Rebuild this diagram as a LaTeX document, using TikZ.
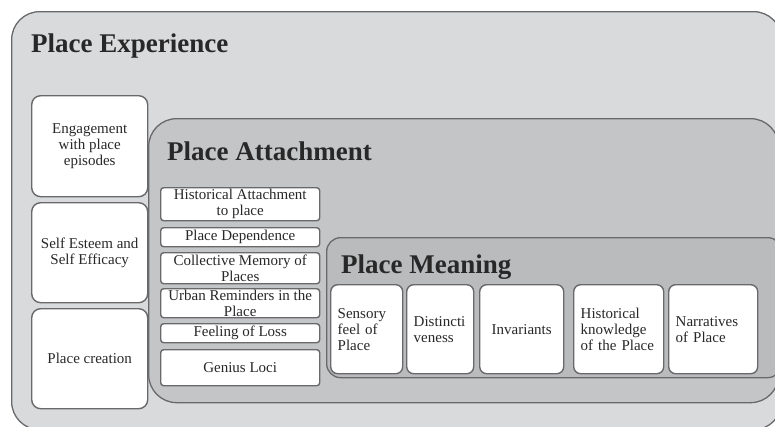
\documentclass[tikz,border=0pt]{standalone}
\usepackage{fontspec}
\setmainfont{Liberation Serif}
\definecolor{expfill}{RGB}{217,218,220}
\definecolor{attfill}{RGB}{196,197,199}
\definecolor{meafill}{RGB}{186,187,189}
\definecolor{edge}{RGB}{105,105,108}
\definecolor{ink}{RGB}{40,40,40}
\tikzset{
  panel/.style={draw=edge, line width=1.3pt, inner sep=0pt, anchor=north west},
  wbox/.style={draw=edge, fill=white, line width=1.4pt, inner sep=0pt, anchor=north west,
     font=\fontsize{15}{16}\selectfont, text=ink, align=center},
  leftbox/.style={wbox, align=left, inner xsep=7pt},
  title/.style={font=\fontsize{27}{30}\selectfont\bfseries, text=ink, anchor=base west, inner sep=0pt}
}
\begin{document}
\begin{tikzpicture}[x=1pt,y=-1pt]
\useasboundingbox (0,0) rectangle (775,426);
% containers
\node[panel, fill=expfill, rounded corners=28pt, minimum width=770pt, minimum height=418pt] (exp) at (11,11) {};
\node[title] (expt) at (31,52) {Place Experience};
\node[panel, fill=attfill, rounded corners=28pt, minimum width=630pt, minimum height=284pt] (att) at (148,118) {};
\node[title] (attt) at (167,160) {Place Attachment};
\node[panel, fill=meafill, rounded corners=14pt, minimum width=455pt, minimum height=140pt] (mea) at (326,237) {};
\node[title] (meat) at (341,273) {Place Meaning};
% left column
\node[wbox, rounded corners=9pt, minimum width=116pt, minimum height=101pt] (eng) at (31,95) {Engagement\\with place\\episodes};
\node[wbox, rounded corners=9pt, minimum width=116pt, minimum height=100pt] (self) at (31,202) {Self Esteem and\\Self Efficacy};
\node[wbox, rounded corners=9pt, minimum width=116pt, minimum height=100pt] (crea) at (31,308) {Place creation};
% attachment column
\node[wbox, rounded corners=3pt, minimum width=159pt, minimum height=33pt] (hist) at (160,187) {Historical Attachment\\to place};
\node[wbox, rounded corners=3pt, minimum width=159pt, minimum height=19pt] (dep) at (160,227) {Place Dependence};
\node[wbox, rounded corners=3pt, minimum width=159pt, minimum height=31pt] (coll) at (160,252) {Collective Memory of\\Places};
\node[wbox, rounded corners=3pt, minimum width=159pt, minimum height=29pt] (urb) at (160,288) {Urban Reminders in the\\Place};
\node[wbox, rounded corners=3pt, minimum width=159pt, minimum height=19pt] (loss) at (160,323) {Feeling of Loss};
\node[wbox, rounded corners=3pt, minimum width=159pt, minimum height=36pt] (gen) at (160,349) {Genius Loci};
% meaning row
\node[leftbox, rounded corners=7pt, text width=58pt, minimum height=89pt] (sens) at (330,284) {Sensory\\feel of\\Place};
\node[leftbox, rounded corners=7pt, text width=53pt, minimum height=89pt] (dist) at (406,284) {Distincti\\veness};
\node[wbox, rounded corners=7pt, minimum width=84pt, minimum height=89pt] (inv) at (479,284) {Invariants};
\node[leftbox, rounded corners=7pt, text width=76pt, minimum height=89pt] (hk) at (573,284) {Historical\\knowledge\\of the Place};
\node[leftbox, rounded corners=7pt, text width=75pt, minimum height=89pt] (narr) at (668,284) {Narratives\\of Place};
\end{tikzpicture}
\end{document}
